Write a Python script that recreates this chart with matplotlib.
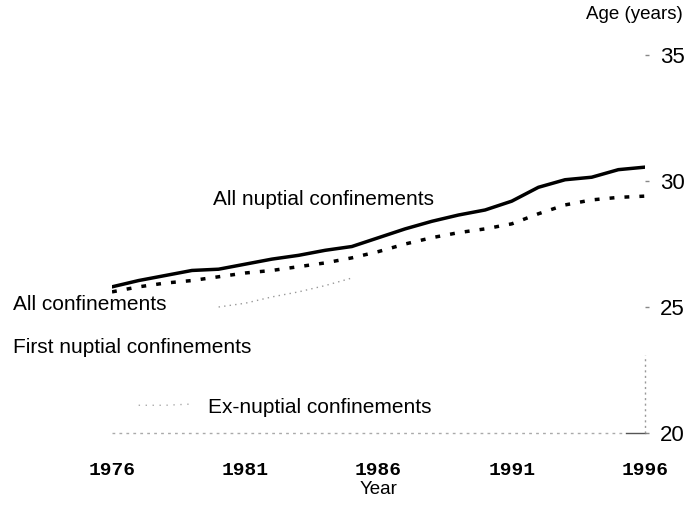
import matplotlib
matplotlib.use("Agg")
import matplotlib.pyplot as plt

# 연도별 산모 평균 연령
years = [1976, 1977, 1978, 1979, 1980, 1981, 1982, 1983, 1984, 1985, 1986,
         1987, 1988, 1989, 1990, 1991, 1992, 1993, 1994, 1995, 1996]
all_nuptial = [25.8, 26.05, 26.25, 26.45, 26.5, 26.7, 26.9, 27.05, 27.25, 27.4, 27.75,
               28.1, 28.4, 28.65, 28.85, 29.2, 29.75, 30.05, 30.15, 30.45, 30.55]
all_conf = [25.6, 25.8, 25.95, 26.05, 26.2, 26.35, 26.45, 26.6, 26.75, 26.95, 27.2,
            27.5, 27.75, 27.95, 28.1, 28.3, 28.7, 29.05, 29.25, 29.35, 29.4]

# 스캔본에서 흐릿하게만 남은 구간
first_years = [1980, 1981, 1982, 1983, 1984, 1985]
first_nuptial = [25.0, 25.15, 25.4, 25.6, 25.85, 26.15]
ex_years = [1977, 1978, 1979]
ex_nuptial = [21.1, 21.1, 21.15]

xticks = [1976, 1981, 1986, 1991, 1996]
yticks = [20, 25, 30, 35]

plt.rcParams["font.family"] = ["Liberation Sans", "DejaVu Sans"]

fig = plt.figure(figsize=(6.91, 5.05), dpi=100)
ax = fig.add_axes([112 / 691, 72 / 505, 533 / 691, 378 / 505])

ax.plot(years, all_nuptial, color="black", lw=2.5, solid_capstyle="round")
ax.plot(years, all_conf, color="black", lw=2.5, dashes=(1.4, 2.9))
ax.plot(first_years, first_nuptial, color="#999999", lw=1, dashes=(1, 3))
ax.plot(ex_years, ex_nuptial, color="#aaaaaa", lw=1, dashes=(1, 4))

# 흐릿한 축선
ax.plot([1976, 1995.3], [20, 20], color="#aaaaaa", lw=1, dashes=(2, 3), clip_on=False)
ax.plot([1995.3, 1996], [20, 20], color="#555555", lw=1, clip_on=False)
ax.plot([1996, 1996], [20, 23.1], color="#999999", lw=1, dashes=(1.5, 2.5), clip_on=False)

ax.set_xlim(1976, 1996)
ax.set_ylim(20, 35)
for s in ax.spines.values():
    s.set_visible(False)

ax.set_xticks(xticks)
ax.set_xticklabels([str(y) for y in xticks], family="Liberation Mono",
                   fontweight="bold", fontsize=14)
ax.tick_params(axis="x", length=0, pad=21)
ax.set_xlabel("Year", fontsize=13.5, labelpad=1)

ax.yaxis.tick_right()
ax.set_yticks(yticks)
ax.set_yticklabels([str(y) for y in yticks], fontsize=16)
ax.tick_params(axis="y", length=3, width=1, color="#888888", pad=8)

ax.text(1995.6, 36.6, "Age (years)", fontsize=13.5, ha="center", va="center")
ax.text(1979.8, 29.25, "All nuptial confinements", fontsize=15, va="center")
ax.text(1972.3, 25.08, "All confinements", fontsize=15, va="center")
ax.text(1972.3, 23.4, "First nuptial confinements", fontsize=15, va="center")
ax.text(1979.6, 21.0, "Ex-nuptial confinements", fontsize=15, va="center")

fig.savefig("out.png", dpi=100)
